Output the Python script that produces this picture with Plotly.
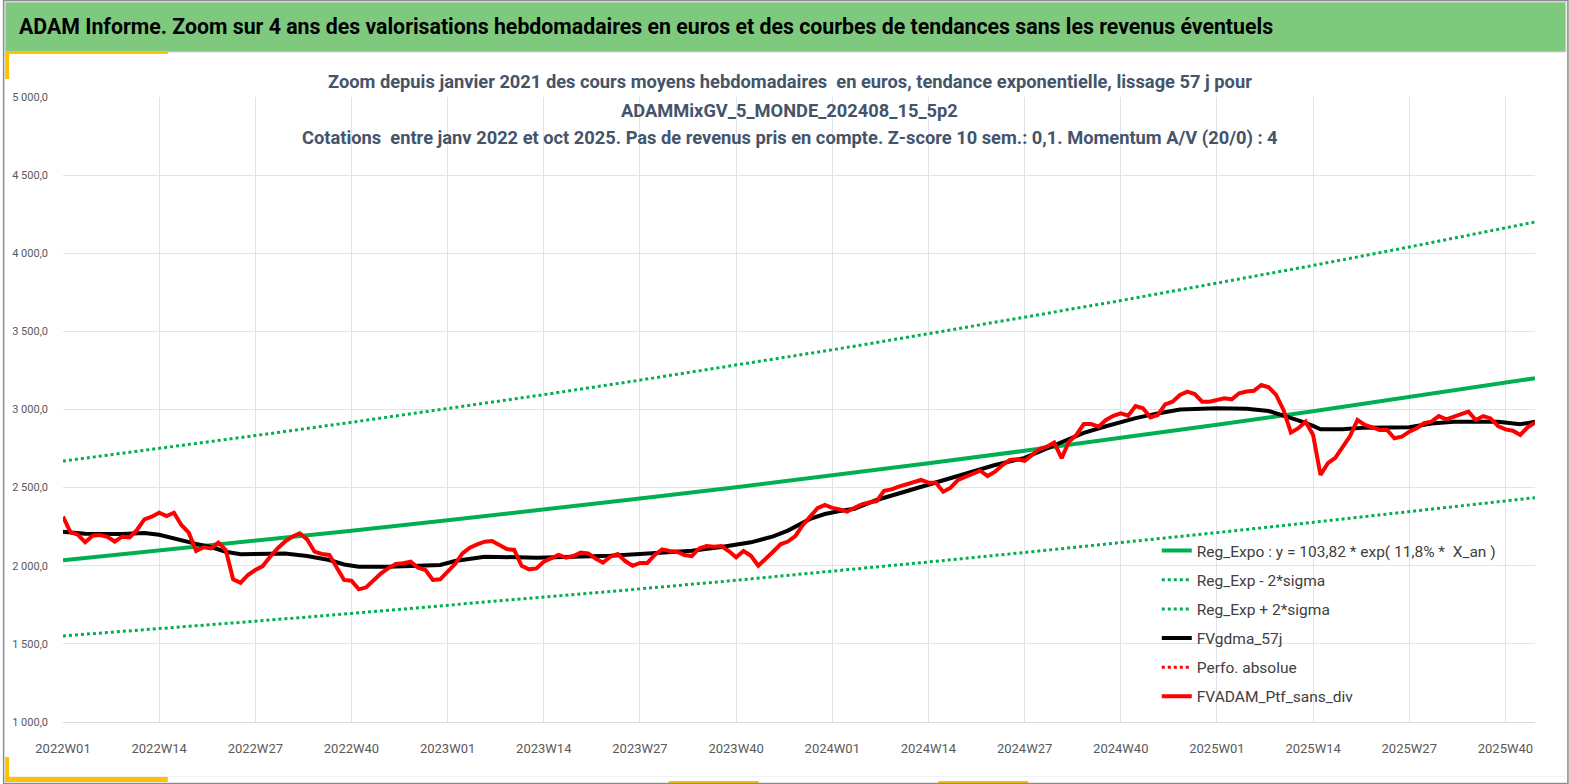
"""Valorisations hebdomadaires ADAM avec tendance exponentielle et lissage."""

import plotly.graph_objects as go

W, H = 1569, 784
# plot area in pixels
L, R, T, B = 60, 1535, 97, 722

# semaines 2022W01 .. 2025W44
weeks = []
for year in (2022, 2023, 2024, 2025):
    n = 44 if year == 2025 else 52
    weeks += ["%dW%02d" % (year, w) for w in range(1, n + 1)]

tick_weeks = ["2022W01", "2022W14", "2022W27", "2022W40",
              "2023W01", "2023W14", "2023W27", "2023W40",
              "2024W01", "2024W14", "2024W27", "2024W40",
              "2025W01", "2025W14", "2025W27", "2025W40"]

# FVADAM_Ptf_sans_div (une valeur par semaine)
ptf_sans_div = [
    2314, 2215, 2200, 2150, 2192, 2196, 2185, 2155, 2186, 2182,
    2229, 2297, 2314, 2339, 2318, 2339, 2261, 2212, 2094, 2118,
    2111, 2148, 2101, 1913, 1891, 1941, 1973, 1998, 2058, 2111,
    2154, 2186, 2208, 2169, 2090, 2075, 2069, 1994, 1909, 1904,
    1849, 1862, 1904, 1952, 1985, 2011, 2016, 2026, 1987, 1973,
    1909, 1913, 1962, 2011, 2079, 2115, 2137, 2154, 2158, 2133,
    2107, 2101, 2000, 1977, 1983, 2026, 2046, 2069, 2052, 2062,
    2084, 2079, 2046, 2020, 2058, 2075, 2030, 2000, 2018, 2018,
    2069, 2105, 2094, 2090, 2069, 2062, 2111, 2126, 2122, 2126,
    2094, 2054, 2094, 2064, 2000, 2041, 2090, 2137, 2155, 2190,
    2260, 2314, 2368, 2389, 2370, 2361, 2346, 2371, 2393, 2405,
    2414, 2480, 2489, 2506, 2520, 2534, 2549, 2532, 2532, 2474,
    2500, 2549, 2570, 2587, 2608, 2574, 2602, 2645, 2677, 2681,
    2672, 2709, 2747, 2762, 2788, 2688, 2794, 2837, 2907, 2907,
    2890, 2933, 2960, 2976, 2960, 3022, 3008, 2950, 2965, 3033,
    3050, 3093, 3114, 3099, 3050, 3050, 3060, 3072, 3065, 3104,
    3115, 3120, 3157, 3142, 3093, 2997, 2852, 2880, 2922, 2837,
    2581, 2656, 2691, 2762, 2830, 2933, 2901, 2886, 2869, 2869,
    2816, 2826, 2858, 2880, 2912, 2922, 2958, 2937, 2954, 2971,
    2986, 2933, 2958, 2943, 2894, 2873, 2864, 2837, 2886, 2916,
]

# FVgdma_57j (moyenne lissée), relevée sur quelques semaines
gdma_idx = [0, 3, 8, 11, 13, 16, 18, 20, 22, 24, 27, 30, 33, 36, 38, 40,
            44, 48, 51, 53, 55, 57, 64, 70, 74, 78, 85, 89, 93, 96, 98,
            101, 103, 105, 107, 110, 116, 120, 126, 130, 134, 138, 141,
            145, 148, 151, 156, 160, 163, 165, 167, 169, 170, 173, 176,
            182, 185, 188, 194, 197, 199]
gdma_57j = [2218, 2205, 2203, 2210, 2198, 2160, 2140, 2120, 2090, 2073,
            2075, 2079, 2062, 2037, 2008, 1994, 1994, 1998, 2005, 2030,
            2045, 2058, 2052, 2058, 2064, 2075, 2096, 2120, 2150, 2188,
            2225, 2300, 2331, 2350, 2365, 2421, 2506, 2565, 2645, 2690,
            2773, 2850, 2893, 2945, 2975, 3000, 3008, 3005, 2990, 2962,
            2930, 2895, 2873, 2873, 2884, 2886, 2910, 2922, 2922, 2905,
            2922]

# tendances exponentielles relevées aux semaines repères
reg_idx = [0, 13, 26, 39, 52, 65, 78, 91, 104, 117, 130, 143, 156, 169,
           182, 195, 199]
reg_expo = [2035, 2096, 2159, 2224, 2291, 2359, 2430, 2503, 2578, 2656,
            2736, 2818, 2903, 2989, 3079, 3172, 3200]
reg_minus = [1551, 1597, 1645, 1695, 1746, 1798, 1852, 1907, 1964, 2024,
             2085, 2147, 2212, 2278, 2346, 2417, 2436]
reg_plus = [2670, 2750, 2833, 2918, 3006, 3095, 3188, 3284, 3382, 3485,
            3590, 3697, 3809, 3922, 4040, 4162, 4200]
perfo_absolue = [None]

GREEN = "#00B050"
FONT = "Roboto, sans-serif"
TXT = "#595959"


def px(x):
    return (x - L) / (R - L)


def py(y):
    return (B - y) / (B - T)


def at(idx):
    return [weeks[i] for i in idx]


def box(x0, x1, y0, y1, **kw):
    d = dict(type="rect", xref="paper", yref="paper",
             x0=px(x0), x1=px(x1), y0=py(y0), y1=py(y1), layer="below")
    d.update(kw)
    return d


fig = go.Figure()
fig.add_trace(go.Scatter(
    x=at(reg_idx), y=reg_expo, mode="lines", legendgroup="a",
    name="Reg_Expo : y = 103,82 * exp( 11,8% *  X_an )",
    line=dict(color=GREEN, width=4)))
fig.add_trace(go.Scatter(
    x=at(reg_idx), y=reg_minus, mode="lines", legendgroup="b",
    name="Reg_Exp - 2*sigma", line=dict(color=GREEN, width=3, dash="dot")))
fig.add_trace(go.Scatter(
    x=at(reg_idx), y=reg_plus, mode="lines", legendgroup="c",
    name="Reg_Exp + 2*sigma", line=dict(color=GREEN, width=3, dash="dot")))
fig.add_trace(go.Scatter(
    x=at(gdma_idx), y=gdma_57j, mode="lines", legendgroup="d",
    name="FVgdma_57j", line=dict(color="black", width=4)))
fig.add_trace(go.Scatter(
    x=perfo_absolue, y=perfo_absolue, mode="lines", legendgroup="e",
    name="Perfo. absolue", showlegend=True,
    line=dict(color="#FF0000", width=3, dash="dot")))
fig.add_trace(go.Scatter(
    x=weeks, y=ptf_sans_div, mode="lines", legendgroup="f",
    name="FVADAM_Ptf_sans_div", line=dict(color="#FF0000", width=4)))

shapes = [
    # bandeau vert
    box(2, 1566, 2, 52, fillcolor="#7FC97F",
        line=dict(color="#D9D9D9", width=1)),
    # filets jaunes
    box(2, 6, 52, 79, fillcolor="#FFC000", line_width=0),
    box(2, 165, 52, 54, fillcolor="#FFC000", line_width=0),
    box(2, 6, 757, 782, fillcolor="#FFC000", line_width=0),
    box(2, 165, 777, 782, fillcolor="#FFC000", line_width=0),
    box(667, 757, 781, 784, fillcolor="#FFC000", line_width=0),
    box(937, 1027, 781, 784, fillcolor="#FFC000", line_width=0),
    # filet gris bas
    box(6, 1565, 776, 776.5, fillcolor="#E4E4E4", line_width=0),
    # cadre
    box(0.5, 1568, 0.5, 783.5, line=dict(color="#8C8C8C", width=1.5)),
]

annotations = [
    dict(text="<b>ADAM Informe. Zoom sur 4 ans des valorisations hebdomadaires "
              "en euros et des courbes de tendances sans les revenus "
              "éventuels</b>",
         xref="paper", yref="paper", x=px(14), y=py(27),
         xanchor="left", yanchor="middle", showarrow=False,
         font=dict(family=FONT, size=21.3, color="black")),
]
subtitles = [
    "Zoom depuis janvier 2021 des cours moyens hebdomadaires  en euros, "
    "tendance exponentielle, lissage 57 j pour",
    "ADAMMixGV_5_MONDE_202408_15_5p2",
    "Cotations  entre janv 2022 et oct 2025. Pas de revenus pris en compte. "
    "Z-score 10 sem.: 0,1. Momentum A/V (20/0) : 4",
]
for k, line in enumerate(subtitles):
    annotations.append(dict(
        text="<b>%s</b>" % line, xref="paper", yref="paper",
        x=px(788), y=py(82 + 28 * k),
        xanchor="center", yanchor="middle", showarrow=False,
        font=dict(family=FONT, size=18.3, color="#44546A")))

fig.update_layout(
    width=W, height=H,
    margin=dict(l=L, r=W - R, t=T, b=H - B),
    paper_bgcolor="white", plot_bgcolor="white",
    separators=", ",
    font=dict(family=FONT, color=TXT),
    shapes=shapes, annotations=annotations,
    legend=dict(x=px(1156), y=py(534), xanchor="left", yanchor="top",
                traceorder="grouped", tracegroupgap=6,
                font=dict(family=FONT, size=15.5, color="#404040"),
                bgcolor="rgba(0,0,0,0)"),
    xaxis=dict(type="category", categoryorder="array", categoryarray=weeks,
               range=[0, len(weeks) - 1], tickmode="array",
               tickvals=tick_weeks, showgrid=True, gridcolor="#DFE3EA",
               gridwidth=1, showline=True, linecolor="#D9D9D9",
               ticks="", ticklabelstandoff=14,
               tickfont=dict(family=FONT, size=13, color=TXT)),
    yaxis=dict(range=[1000, 5000], tickvals=list(range(1000, 5001, 500)),
               tickformat=",.1f", showgrid=True, gridcolor="#DFE3EA",
               zeroline=False, showline=False, ticks="",
               ticklabelstandoff=14,
               tickfont=dict(family=FONT, size=11, color=TXT)),
)

fig.write_html("out.html", config={"displayModeBar": False},
               post_script="document.body.style.margin='0';"
                           "document.body.style.overflow='hidden';")
